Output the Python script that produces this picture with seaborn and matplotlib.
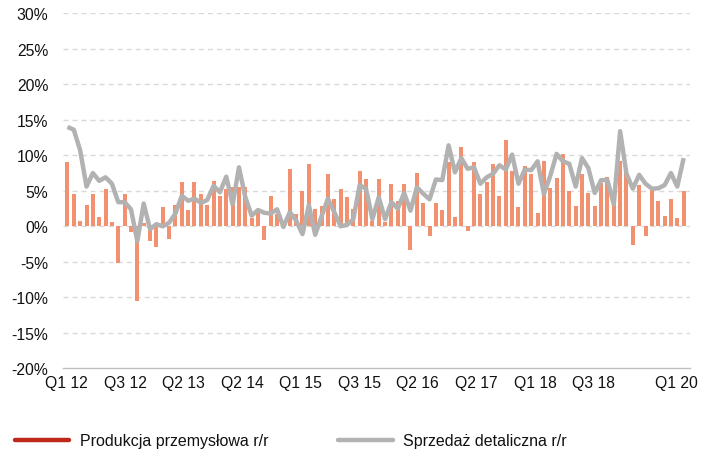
import numpy as np
import pandas as pd
import matplotlib
matplotlib.use("Agg")
import matplotlib.pyplot as plt
from matplotlib.lines import Line2D
import seaborn as sns

# ---- data (monthly, Jan 2012 - Feb 2020), % y/y ----
months = pd.date_range("2012-01-01", periods=98, freq="MS").strftime("%Y-%m").tolist()

produkcja = [
    9.0, 4.5, 0.7, 3.0, 4.5, 1.3, 5.3, 0.6, -5.2, 4.5,
    -0.8, -10.5, 0.4, -2.1, -2.9, 2.7, -1.8, 3.0, 6.3, 2.3,
    6.3, 4.5, 3.0, 6.4, 4.3, 5.3, 5.6, 5.6, 5.6, 1.2,
    2.4, -1.9, 4.3, 1.7, 0.4, 8.1, 1.7, 5.0, 8.8, 2.4,
    2.8, 7.4, 3.8, 5.3, 4.1, 2.4, 7.8, 6.7, 0.7, 6.7,
    0.6, 6.0, 3.6, 6.0, -3.4, 7.5, 3.3, -1.4, 3.3, 2.3,
    9.05, 1.3, 11.1, -0.7, 9.1, 4.55, 6.3, 8.8, 4.3, 12.2,
    7.8, 2.7, 8.5, 7.4, 1.85, 9.2, 5.4, 6.8, 10.2, 5.0,
    2.8, 7.4, 4.7, 2.8, 6.1, 7.0, 4.5, 9.2, 7.7, -2.65,
    5.8, -1.4, 5.3, 3.55, 1.4, 3.8, 1.1, 5.0,
]

sprzedaz = [
    14.0, 13.6, 10.7, 5.6, 7.5, 6.4, 6.9, 6.0, 3.4, 3.4,
    2.4, -2.1, 3.2, -0.4, 0.3, 0.0, 0.5, 1.8, 4.3, 3.6,
    3.9, 3.3, 3.7, 5.7, 4.8, 7.0, 3.1, 8.3, 4.1, 1.5,
    2.3, 1.9, 1.8, 2.4, -0.1, 2.0, 0.8, -1.1, 3.0, -1.2,
    1.4, 3.9, 2.0, 0.0, 0.2, 1.0, 5.8, 5.3, 1.0, 4.1,
    1.0, 3.4, 2.5, 4.7, 2.2, 5.5, 4.6, 3.8, 6.6, 6.5,
    11.4, 7.6, 9.6, 8.1, 8.3, 6.0, 6.9, 7.4, 8.6, 8.0,
    10.1, 6.0, 8.0, 7.9, 9.15, 4.55, 7.1, 10.2, 9.15, 8.8,
    5.6, 9.6, 8.2, 4.7, 6.5, 6.5, 3.1, 13.4, 7.4, 5.3,
    7.25, 6.0, 5.3, 5.35, 5.8, 7.5, 5.6, 9.6,
]

tick_labels = ["Q1 12", "Q3 12", "Q2 13", "Q2 14", "Q1 15", "Q3 15",
               "Q2 16", "Q2 17", "Q1 18", "Q3 18", "Q1 20"]
tick_pos = [-0.2, 9.1, 18.3, 27.5, 36.6, 45.9, 55.1, 64.4, 73.6, 82.8, 95.9]

y_ticks = [30, 25, 20, 15, 10, 5, 0, -5, -10, -15, -20]
y_labels = ["30%", "25%", "20%", "15%", "10%", "5%", "0%", "-5%", "-10%", "-15%", "-20%"]

legend_labels = ["Produkcja przemysłowa r/r", "Sprzedaż detaliczna r/r"]

# ---- style ----
sns.set_theme(style="white")
plt.rcParams["font.family"] = ["Liberation Sans", "DejaVu Sans"]

BAR_C = "#F2916F"
LINE_C = "#B2B2B2"
LEG_RED = "#C0281C"
TXT_C = "#111111"

df = pd.DataFrame({"month": months, "prod": produkcja,
                   "pos": np.arange(len(months)), "ret": sprzedaz})

fig = plt.figure(figsize=(7.14, 4.56), dpi=100)
ax = fig.add_axes([63 / 714, 1 - 369.3 / 456, (690 - 63) / 714, (369.3 - 14.3) / 456])

for v in y_ticks[:-1]:
    ax.axhline(v, color="#D9D9D9", lw=1.0, dashes=(3.6, 2.9), zorder=0)

sns.barplot(data=df, x="month", y="prod", color=BAR_C, saturation=1,
            width=0.63, linewidth=0, ax=ax, zorder=2)
sns.lineplot(data=df, x="pos", y="ret", color=LINE_C, lw=3.2, ax=ax,
             zorder=3, solid_joinstyle="round", solid_capstyle="butt")

ax.set_xlim(-0.7, 98.0)
ax.set_ylim(-20, 30)
ax.set_yticks(y_ticks)
ax.set_yticklabels(y_labels, fontsize=11.3, color=TXT_C)
ax.set_xticks(tick_pos)
ax.set_xticklabels(tick_labels, fontsize=11.3, color=TXT_C)
ax.tick_params(axis="y", length=0, pad=10.5)
ax.tick_params(axis="x", length=0, pad=5)
ax.set_xlabel("")
ax.set_ylabel("")
for s in ["top", "right", "left"]:
    ax.spines[s].set_visible(False)
ax.spines["bottom"].set_color("#BFBFBF")
ax.spines["bottom"].set_linewidth(1.0)

handles = [Line2D([0], [0], color=LEG_RED, lw=3.2, solid_capstyle="round"),
           Line2D([0], [0], color=LINE_C, lw=3.2, solid_capstyle="round")]
fig.legend(handles, legend_labels, loc="center left",
           bbox_to_anchor=(15 / 714, 1 - 442 / 456), ncol=2, frameon=False,
           fontsize=11.5, handlelength=3.4, handletextpad=0.65,
           columnspacing=4.4, borderpad=0, borderaxespad=0, labelcolor=TXT_C)

fig.savefig("out.png", dpi=100)
